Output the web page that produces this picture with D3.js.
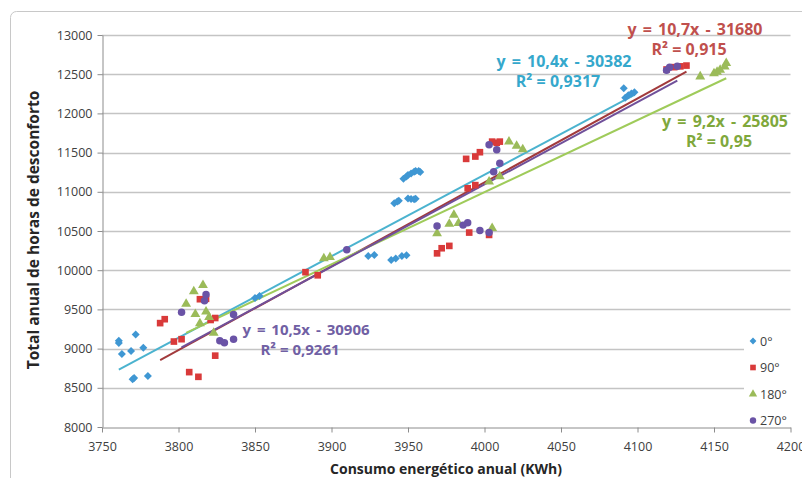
<!DOCTYPE html>
<html>
<head>
<meta charset="utf-8">
<script src="https://cdn.jsdelivr.net/npm/d3@7"></script>
<style>
  body { margin: 0; background: #fff; }
  text { font-family: "Open Sans", "Liberation Sans", sans-serif; }
</style>
</head>
<body>
<script>
// Data
//= ================================
var seriesNames = ['0°', '90°', '180°', '270°'];

var deg0 = [[3761,9100],[3761,9070],[3763,8930],[3769,8970],[3772,9180],[3777,9010],[3770,8610],[3771,8625],[3780,8650],
  [3850,9645],[3853,9670],
  [3924,10180],[3928,10195],[3939,10130],[3942,10150],[3946,10180],[3949,10190],
  [3941,10855],[3943,10875],[3944,10885],[3950,10915],[3952,10908],[3954,10905],[3955,10912],
  [3947,11165],[3949,11195],[3950,11215],[3952,11235],[3954,11255],[3955,11265],[3957,11265],[3958,11252],
  [4091,12320],[4092,12200],[4094,12230],[4096,12255],[4098,12270]];

var deg90 = [[3788,9325],[3791,9375],[3797,9090],[3802,9120],[3807,8700],[3813,8640],[3814,9630],[3818,9635],[3821,9365],[3824,9390],[3824,8910],
  [3883,9975],[3891,9935],
  [3969,10215],[3972,10280],[3977,10310],[3990,10480],[4003,10450],
  [3989,11045],[3994,11085],
  [3988,11420],[3994,11450],[3997,11505],[4008,11625],[4010,11640],[4005,11640],
  [4119,12560],[4124,12590],[4128,12600],[4132,12610]];

var deg180 = [[3805,9570],[3810,9730],[3816,9810],[3811,9440],[3818,9470],[3814,9320],[3823,9200],[3820,9400],
  [3895,10150],[3899,10165],
  [3969,10470],[3977,10590],[3980,10705],[3983,10600],[4005,10535],
  [4003,11130],[4010,11195],
  [4016,11640],[4021,11585],[4025,11540],
  [4141,12470],[4150,12510],[4152,12530],[4154,12555],[4157,12595],[4158,12640]];

var deg270 = [[3802,9465],[3817,9610],[3818,9690],[3827,9100],[3830,9075],[3836,9120],[3836,9435],
  [3910,10260],
  [3969,10565],[3986,10575],[3989,10605],[3997,10505],[4003,10480],
  [4006,11255],[4010,11365],[4008,11535],[4003,11600],
  [4119,12550],[4121,12590],[4126,12600]];

// trend line coefficients shown on the chart
var slopes = [10.4, 10.7, 9.2, 10.5];
var intercepts = [-30382, -31680, -25805, -30906];
var eqLabels = ['y = 10,4x - 30382', 'y = 10,7x - 31680', 'y = 9,2x - 25805', 'y = 10,5x - 30906'];
var r2Labels = ['R² = 0,9317', 'R² = 0,915', 'R² = 0,95', 'R² = 0,9261'];

var xTicks = [3750, 3800, 3850, 3900, 3950, 4000, 4050, 4100, 4150, 4200];
var yTicks = [8000, 8500, 9000, 9500, 10000, 10500, 11000, 11500, 12000, 12500, 13000];

var allSeries = [deg0, deg90, deg180, deg270];

// Styling
//= ================================
var markerColors = ['#3f97d3', '#d93a3a', '#9bbb59', '#6a53a6'];
var lineColors = ['#4bb3cf', '#a23a3c', '#9fcb5a', '#70509a'];
var labelColors = ['#35a8cc', '#c0504d', '#7fa83c', '#7060a4'];

// excel style marker shapes
var diamond = function(s) {
  return `M0,${-s}L${s},0L0,${s}L${-s},0Z`;
};
var markerPath = [
  diamond(4),
  d3.symbol().type(d3.symbolSquare).size(44)(),
  d3.symbol().type(d3.symbolTriangle).size(42)(),
  d3.symbol().type(d3.symbolCircle).size(44)()
];

var svgWidth = 802;
var svgHeight = 478;

var svg = d3.select('body')
  .append('svg')
  .attr('width', svgWidth)
  .attr('height', svgHeight);

// outer chart border
svg.append('rect')
  .attr('x', 10.5)
  .attr('y', 11.5)
  .attr('width', 820)
  .attr('height', 500)
  .attr('rx', 6)
  .attr('fill', '#fff')
  .attr('stroke', '#c8c8c8');

// Scales
//= ================================
var xScale = d3.scaleLinear()
  .domain([3750, 4200])
  .range([102, 790.5]);

var yScale = d3.scaleLinear()
  .domain([8000, 13000])
  .range([427, 35]);

// gridlines
svg.append('g')
  .selectAll('line')
  .data(yTicks.slice(1))
  .enter()
  .append('line')
  .attr('x1', xScale(3750))
  .attr('x2', xScale(4200))
  .attr('y1', d => Math.round(yScale(d)) + 0.5)
  .attr('y2', d => Math.round(yScale(d)) + 0.5)
  .attr('stroke', '#c4c4c4')
  .attr('stroke-width', 1.3);

// Axes
//= ================================
var bottomAxis = d3.axisBottom(xScale)
  .tickValues(xTicks)
  .tickSizeInner(5)
  .tickSizeOuter(0)
  .tickPadding(5)
  .tickFormat(d3.format('d'));

var leftAxis = d3.axisLeft(yScale)
  .tickValues(yTicks)
  .tickSizeInner(5)
  .tickSizeOuter(0)
  .tickPadding(5)
  .tickFormat(d3.format('d'));

var xAxisG = svg.append('g')
  .attr('transform', `translate(0, ${Math.round(yScale(8000)) + 0.5})`)
  .call(bottomAxis);

var yAxisG = svg.append('g')
  .attr('transform', `translate(${Math.round(xScale(3750)) + 0.5}, 0)`)
  .call(leftAxis);

[xAxisG, yAxisG].forEach(function(g) {
  g.select('.domain').attr('stroke', '#8c8c8c');
  g.selectAll('.tick line').attr('stroke', '#8c8c8c');
  g.selectAll('.tick text')
    .attr('fill', '#404040')
    .style('font-size', '12.5px')
    .style('font-family', '"Open Sans", sans-serif');
});
xAxisG.selectAll('.tick text').attr('dy', '1.1em');

// axis titles
svg.append('text')
  .attr('x', 446)
  .attr('y', 474)
  .attr('text-anchor', 'middle')
  .attr('font-size', '14px')
  .attr('font-weight', 'bold')
  .attr('fill', '#262626')
  .text('Consumo energético anual (KWh)');

svg.append('text')
  .attr('transform', 'translate(39, 230) rotate(-90)')
  .attr('text-anchor', 'middle')
  .attr('font-size', '15.5px')
  .attr('font-weight', 'bold')
  .attr('fill', '#262626')
  .text('Total anual de horas de desconforto');

// Trend lines
//= ================================
allSeries.forEach(function(data, i) {
  var ext = d3.extent(data, d => d[0]);
  svg.append('line')
    .attr('x1', xScale(ext[0]))
    .attr('y1', yScale(slopes[i] * ext[0] + intercepts[i]))
    .attr('x2', xScale(ext[1]))
    .attr('y2', yScale(slopes[i] * ext[1] + intercepts[i]))
    .attr('stroke', lineColors[i])
    .attr('stroke-width', 2);
});

// Points
//= ================================
allSeries.forEach(function(data, i) {
  svg.append('g')
    .selectAll('path')
    .data(data)
    .enter()
    .append('path')
    .attr('transform', d => `translate(${xScale(d[0])}, ${yScale(d[1])})`)
    .attr('d', markerPath[i])
    .attr('fill', markerColors[i]);
});

// Equation labels
//= ================================
var labelPos = [[564, 67], [695, 35], [725, 127], [306, 335]];
var labelSize = ['16px', '16px', '16px', '15px'];
labelPos.forEach(function(p, i) {
  var t = svg.append('text')
    .attr('x', p[0])
    .attr('y', p[1])
    .attr('text-anchor', 'middle')
    .attr('font-size', labelSize[i])
    .attr('font-weight', 'bold')
    .attr('fill', labelColors[i]);
  t.append('tspan').attr('x', p[0]).attr('word-spacing', '2px').text(eqLabels[i]);
  t.append('tspan').attr('x', p[0] - 6).attr('dy', 20).text(r2Labels[i]);
});

// Legend
//= ================================
var legend = svg.append('g');
legend.append('rect')
  .attr('x', 744)
  .attr('y', 326)
  .attr('width', 52)
  .attr('height', 98)
  .attr('fill', '#fff');

seriesNames.forEach(function(name, i) {
  var y = 341 + i * 26.5;
  legend.append('path')
    .attr('transform', `translate(753, ${y}) scale(0.85)`)
    .attr('d', markerPath[i])
    .attr('fill', markerColors[i]);
  legend.append('text')
    .attr('x', 760)
    .attr('y', y + 4.5)
    .attr('font-size', '12.5px')
    .attr('fill', '#404040')
    .text(name);
});
</script>
</body>
</html>
